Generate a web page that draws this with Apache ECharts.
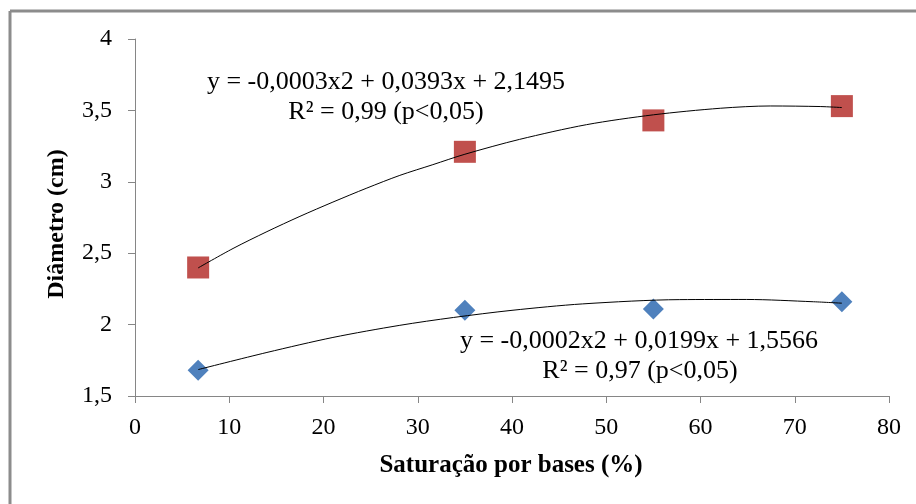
<!DOCTYPE html>
<html>
<head>
<meta charset="utf-8">
<script src="https://cdn.jsdelivr.net/npm/echarts@6/dist/echarts.min.js"></script>
<style>
html,body{margin:0;padding:0;background:#fff;}
#chart{width:916px;height:504px;}
</style>
</head>
<body>
<div id="chart"></div>
<script>
// Observed data
const xValues = [6.7, 35, 55, 75];
const redValues = [2.40, 3.21, 3.43, 3.53];
const blueValues = [1.68, 2.10, 2.11, 2.16];
// Trend lines
const redTrendX = [6.7, 10.4, 14, 17.5, 21, 24.6, 28.1, 31.6, 35, 40.8, 47.9, 55, 62.1, 67.4, 72.7, 75];
const redTrendY = [2.397, 2.533, 2.651, 2.758, 2.858, 2.956, 3.045, 3.12, 3.193, 3.297, 3.40, 3.469, 3.515, 3.531, 3.527, 3.52];
const blueTrendX = [6.7, 14, 21, 28.1, 33.8, 40, 47.5, 57.8, 64.9, 72, 75];
const blueTrendY = [1.685, 1.805, 1.91, 1.995, 2.05, 2.10, 2.145, 2.175, 2.176, 2.16, 2.15];
// Texts
const xAxisTitle = 'Saturação por bases (%)';
const yAxisTitle = 'Diâmetro (cm)';
const redEquation = 'y = -0,0003x2 + 0,0393x + 2,1495';
const redR2 = 'R² = 0,99 (p<0,05)';
const blueEquation = 'y = -0,0002x2 + 0,0199x + 1,5566';
const blueR2 = 'R² = 0,97 (p<0,05)';

const pair = (xs, ys) => xs.map((x, i) => [x, ys[i]]);
const FONT = '"Liberation Serif", "Times New Roman", serif';
const chart = echarts.init(document.getElementById('chart'));
const label = (x, y, text, font, rot) => ({
  type: 'text', x: x, y: y, rotation: rot || 0,
  style: {text: text, font: font, fill: '#000', align: 'center', verticalAlign: 'middle'}
});
chart.setOption({
  animation: false,
  backgroundColor: '#fff',
  grid: {left: 135, right: 27, top: 39, bottom: 108},
  xAxis: {
    type: 'value', min: 0, max: 80, interval: 10,
    axisLine: {show: true, onZero: false, lineStyle: {color: '#868686', width: 1}},
    axisTick: {show: true, length: 7, inside: false, lineStyle: {color: '#868686'}},
    splitLine: {show: false},
    axisLabel: {fontFamily: FONT, fontSize: 24, color: '#000', margin: 20}
  },
  yAxis: {
    type: 'value', min: 1.5, max: 4, interval: 0.5,
    axisLine: {show: true, onZero: false, lineStyle: {color: '#868686', width: 1}},
    axisTick: {show: true, length: 7, inside: false, lineStyle: {color: '#868686'}},
    splitLine: {show: false},
    axisLabel: {fontFamily: FONT, fontSize: 24, color: '#000', margin: 23,
      formatter: v => String(v).replace('.', ',')}
  },
  series: [
    {type: 'scatter', data: pair(xValues, blueValues), symbol: 'diamond', symbolSize: 21,
     itemStyle: {color: '#4F81BD', opacity: 1}, z: 2},
    {type: 'scatter', data: pair(xValues, redValues), symbol: 'rect', symbolSize: 22,
     itemStyle: {color: '#C0504D', opacity: 1}, z: 2},
    {type: 'line', data: pair(redTrendX, redTrendY), smooth: 0.3, showSymbol: false, symbol: 'none',
     lineStyle: {color: '#000', width: 1}, z: 3},
    {type: 'line', data: pair(blueTrendX, blueTrendY), smooth: 0.3, showSymbol: false, symbol: 'none',
     lineStyle: {color: '#000', width: 1}, z: 3}
  ],
  graphic: [
    {type: 'line', shape: {x1: 10, y1: 11, x2: 916, y2: 11}, style: {stroke: '#8c8c8c', lineWidth: 3}},
    {type: 'line', shape: {x1: 10, y1: 11, x2: 10, y2: 504}, style: {stroke: '#8c8c8c', lineWidth: 3}},
    label(386, 82, redEquation, '26px ' + FONT),
    label(386, 112, redR2, '26px ' + FONT),
    label(639, 341, blueEquation, '26px ' + FONT),
    label(640, 371, blueR2, '26px ' + FONT),
    label(511, 466, xAxisTitle, 'bold 25px ' + FONT),
    label(57, 224, yAxisTitle, 'bold 24px ' + FONT, Math.PI / 2)
  ]
});
</script>
</body>
</html>
